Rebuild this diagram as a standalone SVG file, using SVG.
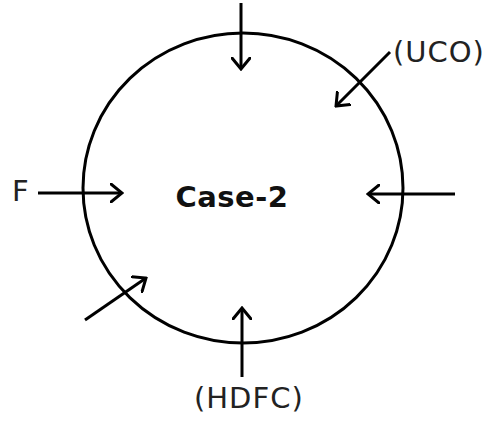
<svg xmlns="http://www.w3.org/2000/svg" width="495" height="423" viewBox="0 0 495 423">
<defs>
<marker id="ah" viewBox="-12 -10 14 20" markerWidth="14" markerHeight="20" refX="0" refY="0" orient="auto" markerUnits="userSpaceOnUse">
<path d="M-11,-9 L0,0 L-11,9" fill="none" stroke="#000" stroke-width="3" stroke-linecap="round" stroke-linejoin="miter"/>
</marker>
</defs>
<style>
.c{fill:none;stroke:#000;stroke-width:3}
.a{fill:none;stroke:#000;stroke-width:3;marker-end:url(#ah)}
.t{font-family:"DejaVu Sans",Verdana,sans-serif;font-size:29px;letter-spacing:1px;fill:#222}
.b{font-family:"DejaVu Sans",Verdana,sans-serif;font-size:29px;font-weight:bold;letter-spacing:0.5px;fill:#111}
</style>
<rect width="495" height="423" fill="#fff"/>
<g id="circle"><ellipse class="c" cx="243" cy="188" rx="160" ry="155"/><text class="b" x="232" y="207" text-anchor="middle">Case-2</text></g>
<g id="connectors">
<line class="a" x1="241" y1="3" x2="241" y2="69"/>
<line class="a" x1="390" y1="52" x2="336" y2="106"/>
<line class="a" x1="38" y1="193" x2="122" y2="193"/>
<line class="a" x1="455" y1="194" x2="368" y2="194"/>
<line class="a" x1="85" y1="320" x2="146" y2="278"/>
<line class="a" x1="242" y1="377" x2="242" y2="308"/>
</g>
<g id="uco"><text class="t" x="393" y="62">(UCO)</text></g>
<g id="f"><text class="t" x="12" y="201">F</text></g>
<g id="hdfc"><text class="t" x="194" y="408">(HDFC)</text></g>
</svg>
